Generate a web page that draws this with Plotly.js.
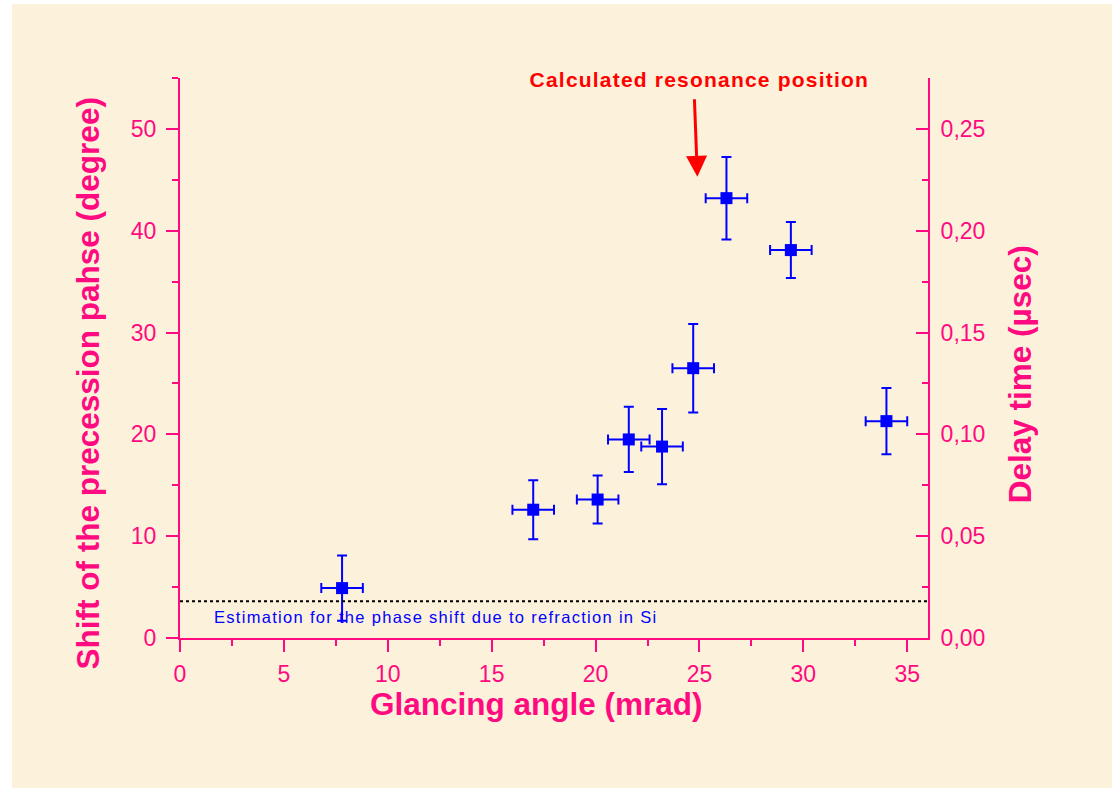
<!DOCTYPE html>
<html>
<head>
<meta charset="utf-8">
<script src="https://cdn.plot.ly/plotly-3.0.1.min.js"></script>
<style>
  html, body { margin: 0; padding: 0; background: #ffffff; width: 1112px; height: 788px; overflow: hidden; }
  #chart { position: absolute; left: 12px; top: 4px; width: 1100px; height: 784px; }
</style>
</head>
<body>
<div id="chart"></div>
<script>
// Data
const glancingAngle = [7.8, 17.0, 20.1, 21.6, 23.2, 24.7, 26.3, 29.4, 34.0];   // mrad
const angleError    = [1.0, 1.0, 1.0, 1.0, 1.0, 1.0, 1.0, 1.0, 1.0];
const phaseShift    = [4.9, 12.6, 13.6, 19.5, 18.8, 26.5, 43.2, 38.1, 21.3];   // degree
const phaseError    = [3.2, 2.9, 2.35, 3.2, 3.7, 4.35, 4.05, 2.75, 3.25];
const refractionShift = 3.6;          // degree, dotted estimation line
const resonancePosition = [24.9, 45.3]; // arrow tip (mrad, degree)

const xTicks = [0, 5, 10, 15, 20, 25, 30, 35];
const yTicks = [0, 10, 20, 30, 40, 50];
const y2Ticks = [0, 0.05, 0.10, 0.15, 0.20, 0.25];

const PINK = '#ff0a80';
const FONT = 'Liberation Sans, Arial, sans-serif';

const traces = [
  {
    x: glancingAngle, y: phaseShift,
    type: 'scatter', mode: 'markers',
    marker: { symbol: 'square', size: 12, color: '#0000ff' },
    error_y: { type: 'data', array: phaseError, visible: true, color: '#0000ff', thickness: 2, width: 5 },
    error_x: { type: 'data', array: angleError, visible: true, color: '#0000ff', thickness: 2, width: 5 },
    hoverinfo: 'x+y', showlegend: false
  },
  { x: [], y: [], yaxis: 'y2', type: 'scatter', mode: 'markers', showlegend: false, hoverinfo: 'skip' }
];

const axisCommon = {
  showline: true, linecolor: PINK, linewidth: 2,
  ticks: 'outside', ticklen: 12, tickwidth: 2, tickcolor: PINK,
  showgrid: false, zeroline: false,
  tickfont: { family: FONT, size: 23, color: PINK },
  fixedrange: true
};

const layout = {
  width: 1100, height: 784,
  paper_bgcolor: '#fcf1da', plot_bgcolor: 'rgba(0,0,0,0)',
  margin: { l: 168, r: 184, t: 74, b: 150 },
  separators: ',.',
  showlegend: false,
  xaxis: Object.assign({}, axisCommon, {
    range: [0, 36], tickvals: xTicks, ticktext: xTicks.map(String),
    minor: { dtick: 2.5, tick0: 0, ticklen: 6, tickwidth: 2, tickcolor: PINK, ticks: 'outside' },
    ticklabelstandoff: 2
  }),
  yaxis: Object.assign({}, axisCommon, {
    range: [0, 55], tickvals: yTicks, ticktext: yTicks.map(String),
    minor: { dtick: 5, tick0: 0, ticklen: 6, tickwidth: 2, tickcolor: PINK, ticks: 'outside' },
    ticklabelstandoff: 5
  }),
  yaxis2: Object.assign({}, axisCommon, {
    overlaying: 'y', side: 'right', anchor: 'x', ticks: 'inside',
    range: [0, 0.275], tickvals: y2Ticks, tickformat: '.2f',
    minor: { dtick: 0.025, tick0: 0, ticklen: 6, tickwidth: 2, tickcolor: PINK, ticks: 'inside' },
    ticklabelstandoff: 6
  }),
  shapes: [
    { type: 'line', xref: 'paper', x0: 0, x1: 1, yref: 'y', y0: refractionShift, y1: refractionShift,
      line: { color: '#000000', width: 2, dash: '3px,3px' } }
  ],
  annotations: [
    { text: '<b>Shift of the precession pahse (degree)</b>', xref: 'paper', yref: 'paper',
      x: -0.123, y: 0.4545, textangle: -90, showarrow: false, xanchor: 'center', yanchor: 'middle',
      font: { family: FONT, size: 31.5, color: PINK } },
    { text: '<b>Glancing angle (mrad)</b>', xref: 'paper', yref: 'paper',
      x: 0.476, y: -0.1179, showarrow: false, xanchor: 'center', yanchor: 'middle',
      font: { family: FONT, size: 31.5, color: PINK } },
    { text: '<b>Delay time (µsec)</b>', xref: 'paper', yref: 'paper',
      x: 1.123, y: 0.471, textangle: -90, showarrow: false, xanchor: 'center', yanchor: 'middle',
      font: { family: FONT, size: 31.5, color: PINK } },
    { text: '<b>Calculated resonance position</b>', xref: 'paper', yref: 'paper',
      x: 0.695, y: 0.998, showarrow: false, xanchor: 'center', yanchor: 'middle',
      font: { family: FONT, size: 21, color: '#ff0000' } },
    { text: '', xref: 'x', yref: 'y', x: resonancePosition[0], y: resonancePosition[1],
      showarrow: true, ax: -3, ay: -79, arrowcolor: '#ff0000', arrowwidth: 3, arrowhead: 2, arrowsize: 1.4 },
    { text: 'Estimation for the phase shift due to refraction in Si', xref: 'paper', yref: 'paper',
      x: 0.0428, y: 0.0375, showarrow: false, xanchor: 'left', yanchor: 'middle', align: 'left',
      font: { family: FONT, size: 16.5, color: '#0000ff' } }
  ]
};

Plotly.newPlot('chart', traces, layout, { displayModeBar: false, staticPlot: true }).then(function () {
  // The reference draws these two labels with a little extra letter spacing
  document.querySelectorAll('.annotation-text').forEach(function (t) {
    const s = t.textContent;
    if (s.indexOf('Calculated') === 0) t.style.letterSpacing = '1.2px';
    if (s.indexOf('Estimation') === 0) t.style.letterSpacing = '1.3px';
  });
});
</script>
</body>
</html>
